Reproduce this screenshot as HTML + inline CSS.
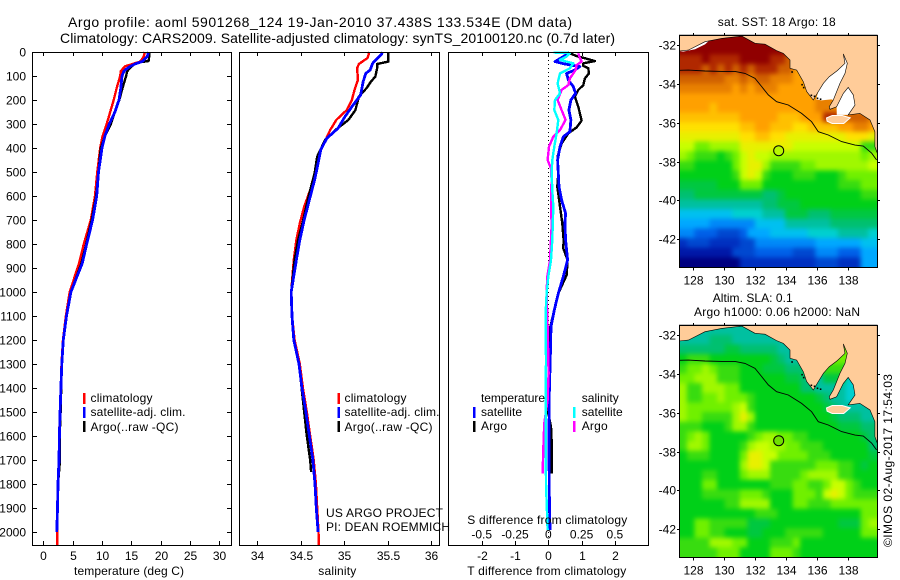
<!DOCTYPE html>
<html>
<head>
<meta charset="utf-8">
<title>Argo profile</title>
<style>
html,body{margin:0;padding:0;background:#fff}
svg{display:block}
text{font-family:"Liberation Sans",sans-serif;font-size:12px;fill:#000}
.t{font-size:14px}
</style>
</head>
<body>
<svg id="chart" xmlns="http://www.w3.org/2000/svg" width="900" height="580" viewBox="0 0 900 580">
  <defs>
    <filter id="heatBlur" filterUnits="userSpaceOnUse" x="660" y="15" width="240" height="560" color-interpolation-filters="sRGB">
      <feGaussianBlur stdDeviation="2.4"/>
    </filter>
    <clipPath id="sstClip"><rect x="680" y="35" width="198" height="232"/></clipPath>
    <clipPath id="slaClip"><rect x="680" y="325" width="198" height="232"/></clipPath>
  </defs>
  <rect x="0" y="0" width="900" height="580" fill="#fff"/>
  <text class="t" x="68" y="27" textLength="504">Argo profile: aoml 5901268_124 19-Jan-2010 37.438S 133.534E (DM data)</text>
  <text class="t" x="60" y="43" textLength="555">Climatology: CARS2009. Satellite-adjusted climatology: synTS_20100120.nc (0.7d later)</text>

  <g id="panels"></g>
  <g id="maps"></g>

  <g>
    <rect x="83" y="393" width="2.5" height="11" fill="#f00"/>
    <rect x="83" y="407" width="2.5" height="11" fill="#00f"/>
    <rect x="83" y="421" width="2.5" height="11" fill="#000"/>
    <text x="90.5" y="402" textLength="62">climatology</text>
    <text x="90.5" y="416" textLength="95">satellite-adj. clim.</text>
    <text x="90.5" y="431" textLength="88">Argo(..raw -QC)</text>
  </g>
  <g>
    <rect x="337.5" y="393" width="2.5" height="11" fill="#f00"/>
    <rect x="337.5" y="407" width="2.5" height="11" fill="#00f"/>
    <rect x="337.5" y="421" width="2.5" height="11" fill="#000"/>
    <text x="344.5" y="402" textLength="62">climatology</text>
    <text x="344.5" y="416" textLength="95">satellite-adj. clim.</text>
    <text x="344.5" y="431" textLength="88">Argo(..raw -QC)</text>
    <text x="326" y="517" textLength="117">US ARGO PROJECT</text>
    <text x="326" y="531" textLength="124">PI: DEAN ROEMMICH</text>
  </g>
  <g>
    <text x="481" y="402" textLength="64">temperature</text>
    <text x="481" y="416" textLength="41">satellite</text>
    <text x="481" y="430" textLength="26">Argo</text>
    <rect x="473" y="407" width="2.5" height="11" fill="#00f"/>
    <rect x="473" y="421" width="2.5" height="11" fill="#000"/>
    <text x="581.7" y="402" textLength="37">salinity</text>
    <text x="581.7" y="416" textLength="41">satellite</text>
    <text x="581.7" y="430" textLength="26">Argo</text>
    <rect x="573" y="407" width="2.5" height="11" fill="#0ff"/>
    <rect x="573" y="421" width="2.5" height="11" fill="#f0f"/>
    <text x="467.3" y="524" textLength="160">S difference from climatology</text>
  </g>
  <text x="74" y="575" textLength="110">temperature (deg C)</text>
  <text x="318.3" y="575" textLength="38">salinity</text>
  <text x="467.3" y="575" textLength="159">T difference from climatology</text>

  <text x="717.7" y="26" textLength="118">sat. SST: 18 Argo: 18</text>
  <text x="712.7" y="302" textLength="80">Altim. SLA: 0.1</text>
  <text x="694" y="316" textLength="166">Argo h1000: 0.06 h2000: NaN</text>
  <text transform="translate(892,547) rotate(-90)" x="0" y="0" textLength="173">©IMOS 02-Aug-2017 17:54:03</text>
</svg>

<script>
/* ---------- temperature profiles ---------- */
const tempClimDepth = [0,20,40,60,80,100,150,200,250,300,350,400,500,600,700,800,880,1000,1100,1200,1300,1400,1500,1600,1700,1800,1900,2000,2054];
const tempClim = [17.3,17.1,16.5,13.9,13.2,13.1,12.5,12.0,11.4,10.8,10.1,9.7,9.2,8.8,8.1,6.9,6.1,4.5,3.85,3.35,3.1,3.0,2.85,2.7,2.65,2.5,2.42,2.38,2.36];
const tempSatDepth = [0,20,40,50,60,70,80,100,150,200,250,300,350,400,500,600,700,800,880,1000,1100,1200,1300,1400,1500,1600,1700,1800,1900,2000];
const tempSat = [17.9,17.7,16.8,15.6,14.8,14.2,13.75,13.4,13.2,12.9,12.2,11.25,10.5,10,9.4,9.1,8.4,7.4,6.65,4.7,3.95,3.4,3.15,3.0,2.87,2.75,2.68,2.5,2.42,2.3];
const tempArgoDepth = [0,30,38,42,50,60,80,100,150,200,250,300,350,400,500,600,700,800,880,1000,1100,1200,1300,1400,1500,1600,1700,1800];
const tempArgo = [18.06,18.0,17.9,16.5,15.6,15.05,14.3,14.1,13.5,12.95,12.2,11.5,10.5,9.8,9.4,9,8.25,7.3,6.5,4.7,3.95,3.4,3.15,3.05,2.95,2.8,2.85,2.5];

/* ---------- salinity profiles ---------- */
const salClimDepth = [0,15,25,50,68,116,158,200,242,283,325,380,436,505,575,644,714,783,866,1000,1100,1200,1300,1400,1500,1600,1700,1800,1900,2000,2054];
const salClim = [35.29,35.28,35.27,35.17,35.15,35.16,35.12,35.09,35.03,34.91,34.84,34.77,34.70,34.66,34.61,34.54,34.49,34.45,34.42,34.39,34.40,34.43,34.49,34.525,34.57,34.61,34.65,34.675,34.69,34.705,34.71];
const salSatDepth = [0,10,20,47,75,89,123,179,228,269,318,360,408,464,533,603,700,783,866,1000,1100,1200,1300,1400,1500,1600,1700,1800,1900,2000];
const salSat = [35.44,35.43,35.40,35.33,35.30,35.25,35.22,35.19,35.09,35.01,34.93,34.80,34.73,34.70,34.66,34.61,34.54,34.49,34.45,34.39,34.40,34.42,34.48,34.515,34.56,34.60,34.64,34.665,34.68,34.70];
const salArgoDepth = [0,20,40,50,68,103,123,150,185,242,283,325,367,436,505,603,700,783,866,1000,1100,1200,1300,1400,1500,1600,1700,1750];
const salArgo = [35.51,35.51,35.51,35.38,35.38,35.36,35.31,35.26,35.17,35.13,35.05,34.90,34.78,34.69,34.66,34.59,34.53,34.47,34.43,34.39,34.40,34.42,34.48,34.51,34.54,34.57,34.61,34.62];

/* ---------- difference profiles ---------- */
const dTempSatDepth = [6,19,40,50,61,75,89,117,144,172,200,242,283,332,353,394,450,506,561,617,672,714,783,867,936,1006,1075,1144,1270,1422,1645,1839,1992];
const dTempSat = [.60,.45,.20,.50,.95,.80,.55,.60,.75,.82,.68,.62,.68,.65,.45,.35,.28,.30,.32,.40,.52,.50,.52,.58,.45,.30,.18,.08,.06,.03,.02,.03,.05];
const dTempArgoDepth = [3,17,26,38,47,58,68,89,110,138,158,186,228,286,314,339,381,436,506,561,644,714,783,818,867,930,1006,1145,1256,1506,1561,1617,1756];
const dTempArgo = [.60,.85,1.10,1.40,1.05,1.05,1.20,1.22,1.10,1.05,.90,.80,.90,1.00,.85,.60,.40,.28,.30,.27,.35,.42,.46,.45,.58,.55,.30,.06,.02,0,.08,.10,.10];
const dSalSatDepth = [2,4,19,33,47,68,89,131,172,200,242,283,339,394,450,506,575,644,783,867,936,1006,1089,1283,1506,1797,1992];
const dSalSat = [.0375,.1625,.1375,.0875,.1875,.1625,.0875,.07,.0875,.05,.045,.075,.0625,.045,.03,.025,.03,.0375,.03,.02,0,-.0125,-.02,-.0175,-.02,-.0175,-.005];
const dSalArgoDepth = [6,26,40,54,75,110,138,158,200,242,283,325,353,394,450,485,533,603,728,867,936,1006,1145,1339,1450,1547,1617,1756];
const dSalArgo = [.225,.2375,.25,.2125,.205,.1625,.15,.1,.07,.1,.13,.0875,.0375,.005,-.005,.02,.025,.02,.025,.0125,-.0075,-.0125,-.005,.0025,-.005,-.03,-.035,-.0425];

/* ---------- tick labels ---------- */
const depthTicks = [0,100,200,300,400,500,600,700,800,900,1000,1100,1200,1300,1400,1500,1600,1700,1800,1900,2000];
const tempTicks = [0,5,10,15,20,25,30];
const salTicks = [34,34.5,35,35.5,36];
const dTempTicks = [-2,-1,0,1,2];
const dSalTicks = [-0.5,-0.25,0,0.25,0.5];
const lonTicks = [128,130,132,134,136,138];
const latTicks = [-32,-34,-36,-38,-40,-42];

/* ---------- map values: palette levels, rows north to south, 26 columns ---------- */
const sstRows = [
[24,24,24,24,24,24,24,24,24,24,24,24,24,24,24,24,24,24,24,24,24,24,24,24,24,24],
[24,24,24,24,24,24,24,24,24,24,24,24,24,24,24,23,23,23,23,23,23,23,23,23,23,23],
[23,23,23,24,23,23,23,23,24,24,24,24,23,23,22,21,21,21,21,21,21,21,21,21,21,21],
[23,23,23,22,23,22,23,22,23,22,23,23,23,22,22,20,20,20,20,20,20,20,20,20,20,20],
[22,22,22,22,22,22,21,21,22,21,22,22,21,21,21,20,20,20,20,20,20,20,20,20,20,20],
[21,21,21,21,21,21,21,20,21,20,21,21,21,20,20,20,20,20,20,20,20,20,20,20,20,20],
[20,20,20,20,20,20,20,20,20,20,20,20,20,20,20,20,20,20,21,21,21,21,21,21,21,21],
[20,20,20,20,19,20,20,20,20,20,20,20,20,20,20,20,20,20,21,21,21,21,21,21,21,21],
[19,19,19,19,19,19,19,19,20,20,20,20,20,19,19,19,20,20,20,23,23,21,22,22,22,21],
[18,18,18,18,18,18,18,18,19,19,20,20,19,19,19,18,18,19,19,19,19,20,20,21,21,20],
[17,17,17,17,17,17,17,17,18,18,19,19,18,18,17,17,17,17,17,17,17,17,18,18,18,17],
[16,16,14,14,15,15,15,15,17,17,17,17,17,17,17,16,16,16,16,16,16,16,16,16,13,13],
[15,14,13,13,13,12,13,14,16,17,16,16,15,15,15,15,15,15,15,15,15,15,15,15,14,15],
[13,13,12,12,12,12,12,14,16,17,17,15,13,13,13,13,14,14,15,15,15,15,15,15,15,16],
[12,12,12,12,12,12,12,13,16,17,16,13,12,12,12,13,13,13,12,12,12,13,14,14,14,14],
[11,11,11,11,11,12,12,12,14,14,14,12,12,12,12,12,12,12,12,12,12,13,13,13,14,14],
[10,10,11,11,11,11,11,11,11,11,11,10,10,11,12,12,12,12,12,12,12,12,12,12,13,13],
[9,9,9,9,9,9,9,9,9,9,9,10,10,11,11,11,12,12,12,12,12,12,12,12,12,12],
[7,7,7,7,7,7,7,8,8,8,8,9,9,9,11,11,11,10,10,10,11,11,11,11,11,11],
[6,6,6,6,5,5,5,5,5,5,7,7,7,7,9,9,9,9,9,9,10,10,10,10,10,10],
[5,5,4,4,4,3,3,3,4,6,6,6,7,7,7,7,7,8,8,8,8,9,9,9,9,8],
[2,3,3,3,2,2,2,2,3,3,5,5,5,5,5,5,5,5,6,6,6,6,6,6,7,7],
[1,1,1,1,1,1,1,3,3,3,4,4,4,4,4,3,3,3,5,5,5,4,4,4,6,6],
[0,0,0,0,0,0,0,0,2,2,2,2,2,2,2,2,2,2,3,3,3,2,2,2,6,6]
];
const slaRows = [
[9,9,9,9,9,9,9,9,9,9,9,9,9,9,9,9,9,9,9,9,9,9,9,9,9,9],
[9,9,9,9,10,10,10,9,9,9,9,9,9,9,9,9,9,9,9,9,9,9,9,9,9,9],
[10,10,10,10,10,10,11,11,10,10,10,10,10,9,9,9,9,9,9,9,13,14,14,9,9,9],
[12,13,13,13,12,12,12,12,12,12,12,12,11,10,9,9,9,9,9,13,14,14,14,9,9,9],
[13,14,14,15,14,13,13,13,12,12,12,11,11,11,10,10,10,12,13,13,13,13,9,9,9,9],
[14,14,15,15,15,13,13,13,12,12,12,12,12,12,11,11,10,9,9,11,11,11,8,8,9,9],
[15,13,13,15,15,15,14,14,12,12,12,12,12,12,12,12,10,10,9,9,9,9,8,8,8,9],
[15,13,13,14,14,15,14,14,14,13,12,12,12,12,12,12,12,12,11,10,9,9,8,8,8,9],
[15,14,14,14,14,14,14,15,16,13,12,12,12,12,12,12,12,12,12,11,10,9,9,9,9,9],
[15,14,14,13,13,13,13,15,17,15,12,12,12,12,12,12,12,12,12,12,11,10,10,10,9,9],
[13,13,13,12,12,12,13,15,15,13,12,12,12,12,12,12,12,12,12,12,12,11,11,11,10,10],
[13,14,15,14,12,12,12,12,12,13,14,15,15,14,14,13,13,12,12,12,12,12,12,12,11,10],
[13,15,15,14,12,12,12,12,13,15,16,16,15,15,14,14,13,13,13,12,12,12,12,12,12,10],
[12,13,13,13,12,12,12,12,14,17,17,16,16,14,14,14,14,13,13,13,12,12,12,12,12,11],
[12,12,12,12,12,12,12,12,15,17,17,16,13,13,13,13,13,13,14,14,14,13,13,12,11,12],
[12,12,12,13,13,12,12,12,14,15,15,15,13,13,13,13,14,15,15,15,15,13,13,12,12,12],
[12,12,12,14,14,12,12,12,12,12,12,12,13,13,13,14,14,13,13,14,16,16,14,13,12,12],
[12,12,12,13,13,13,13,13,14,14,14,13,12,12,12,14,14,14,13,16,17,16,14,13,13,13],
[12,12,12,12,12,12,13,13,15,15,15,15,12,12,12,14,14,13,13,13,14,14,14,14,14,14],
[12,12,12,12,12,12,12,12,12,12,13,13,13,12,12,12,12,12,12,12,12,12,12,12,14,14],
[12,12,14,14,13,13,13,13,13,11,11,11,12,12,12,12,12,12,12,12,12,11,11,11,14,15],
[12,12,14,14,13,13,12,12,12,11,11,12,12,12,13,13,13,13,13,12,12,12,12,12,14,14],
[13,13,13,13,15,15,15,14,14,12,12,12,13,13,13,14,12,12,12,12,12,12,12,12,12,12],
[13,13,13,13,13,14,14,14,12,12,12,12,14,14,14,13,12,12,12,12,12,12,12,12,12,12]
];
const paletteStops = ["#000080","#0018a8","#0030c0","#0048d0","#0060e8","#0088f8","#00a8ff","#00c0f0","#00d0d0","#00c0a0","#00c070","#00c840","#00d018","#38dc10","#70f000","#a0f800","#c8ff00","#e8f000","#ffe000","#ffc000","#ffa000","#e88000","#d06000","#b02800","#900000"];

/* ---------- coastline and contour, [lon, lat] ---------- */
const coastLon = [127.09,127.68,128.76,129.84,131.14,132.0,132.65,133.4,133.83,134.27,134.27,134.7,135.13,135.35,135.78,136.1,136.43,136.81,137.33,137.83,137.72,137.98,137.83,137.51,137.07,136.81,136.86,137.29,137.72,138.04,138.37,138.48,138.04,138.8,139.45,139.77,139.77,139.92,139.92,127.09];
const coastLat = [-32.31,-32.26,-31.83,-31.66,-31.54,-31.91,-31.96,-32.29,-32.43,-32.77,-33.2,-33.29,-33.89,-34.4,-34.83,-34.4,-33.97,-33.63,-33.32,-32.94,-32.46,-32.94,-33.46,-33.97,-34.83,-35.18,-35.31,-35.18,-34.49,-34.18,-34.57,-35.09,-35.6,-35.52,-35.86,-36.46,-37.23,-37.56,-31.49,-31.49];
const spencerLon = [135.95,136.1,136.43,136.81,137.33,137.83,137.72,137.98,137.83,137.51,137.07,136.95,136.3];
const spencerLat = [-34.8,-34.4,-33.97,-33.63,-33.32,-32.94,-32.46,-32.94,-33.46,-33.97,-34.83,-34.8,-34.85];
const vincentLon = [137.29,137.72,138.04,138.37,138.48,138.04,137.3];
const vincentLat = [-35.18,-34.49,-34.18,-34.57,-35.09,-35.6,-35.6];
const fringeLon = [127.09,127.68,128.22,128.76,129.08,128.76,128.11,127.35];
const fringeLat = [-32.31,-32.26,-32.05,-31.83,-31.74,-31.97,-32.22,-32.34];
const kangarooLon = [136.63,137.0,137.65,138.17,137.75,137.0,136.67];
const kangarooLat = [-35.75,-35.63,-35.63,-35.75,-36.04,-36.04,-35.92];
const contourLon = [127.09,127.68,128.76,129.84,130.7,131.35,132.0,132.43,132.86,133.4,134.16,135.02,135.67,136.1,136.75,137.61,138.48,139.02,139.56,139.88];
const contourLat = [-33.30,-33.29,-33.34,-33.36,-33.36,-33.46,-33.72,-34.14,-34.57,-34.92,-35.09,-35.52,-35.95,-36.46,-36.63,-36.97,-37.15,-37.2,-37.57,-37.92];
const reefLon = [134.35,135.0,135.1,135.6,135.8,136.0,136.2];
const reefLat = [-33.35,-34.0,-34.15,-34.55,-34.6,-34.7,-34.75];
const floatLon = 133.534;
const floatLat = -37.438;

/* ---------- axis functions ---------- */
const svgNS = "http://www.w3.org/2000/svg";
const panelsG = document.getElementById("panels");
const mapsG = document.getElementById("maps");
const yDepth = d => 52 + d * 0.24;
const xTemp = v => 43.3 + v * 5.87;
const xSal = v => 257.3 + (v - 34) * 86.8;
const xDTemp = v => 548.3 + v * 33.3;
const xDSal = v => 548.3 + v * 133.2;
const xLon = v => 693.3 + (v - 128) * 15.43;
const latScale = (v, y32) => y32 + (-32 - v) * 19.43;

function make(tag, parent, attrs) {
  const el = document.createElementNS(svgNS, tag);
  for (const k in attrs) el.setAttribute(k, attrs[k]);
  parent.appendChild(el);
  return el;
}
function tickLine(parent, x1, y1, x2, y2) {
  return make("line", parent, {x1, y1, x2, y2, stroke: "#000", "stroke-width": 1, "shape-rendering": "crispEdges"});
}
function tickText(parent, x, y, s, anchor) {
  const el = make("text", parent, {x, y, "text-anchor": anchor, "font-size": "11.6"});
  el.textContent = s;
  return el;
}
function profile(parent, depths, values, xf, color, width) {
  const pts = depths.map((d, i) => xf(values[i]).toFixed(1) + "," + yDepth(d).toFixed(1)).join(" ");
  return make("polyline", parent, {points: pts, fill: "none", stroke: color, "stroke-width": width, "shape-rendering": "crispEdges", "stroke-linejoin": "round"});
}
function frame(parent, x, y, w, h) {
  return make("rect", parent, {x, y, width: w, height: h, fill: "none", stroke: "#000", "stroke-width": 1, "shape-rendering": "crispEdges"});
}

/* ---------- temperature panel ---------- */
const tempPanel = make("g", panelsG, {});


let line;
line = profile(tempPanel, tempClimDepth, tempClim, xTemp, "#f00", 2.4);


line = profile(tempPanel, tempArgoDepth, tempArgo, xTemp, "#000", 2.4);


line = profile(tempPanel, tempSatDepth, tempSat, xTemp, "#00f", 2.8);


const tempFrame = frame(tempPanel, 32.5, 52.5, 199, 493);


depthTicks.forEach(d => {
  const y = Math.round(yDepth(d)) + 0.5;
  const a = tickLine(tempPanel, 32, y, 37, y);
  
  
  const b = tickLine(tempPanel, 227, y, 232, y);
  
  
  const t = tickText(tempPanel, 26, y + 4, String(d), "end");
  
  
});
tempTicks.forEach(v => {
  const x = Math.round(xTemp(v)) + 0.5;
  const a = tickLine(tempPanel, x, 52, x, 56);
  
  
  const b = tickLine(tempPanel, x, 541, x, 545);
  
  
  const t = tickText(tempPanel, x, 560, String(v), "middle");
  
  
});

/* ---------- salinity panel ---------- */
const salPanel = make("g", panelsG, {});


line = profile(salPanel, salClimDepth, salClim, xSal, "#f00", 2.4);


line = profile(salPanel, salArgoDepth, salArgo, xSal, "#000", 2.4);


line = profile(salPanel, salSatDepth, salSat, xSal, "#00f", 2.8);


const salFrame = frame(salPanel, 239.5, 52.5, 200, 493);


salTicks.forEach(v => {
  const x = Math.round(xSal(v)) + 0.5;
  const a = tickLine(salPanel, x, 52, x, 56);
  
  
  const b = tickLine(salPanel, x, 541, x, 545);
  
  
  const t = tickText(salPanel, x, 560, String(v), "middle");
  
  
});

/* ---------- difference panel ---------- */
const diffPanel = make("g", panelsG, {});


const zeroLine = make("line", diffPanel, {x1: 548.5, y1: 52, x2: 548.5, y2: 545, stroke: "#000", "stroke-width": 1, "stroke-dasharray": "1 3", "shape-rendering": "crispEdges"});


line = profile(diffPanel, dTempArgoDepth, dTempArgo, xDTemp, "#000", 2.4);


line = profile(diffPanel, dTempSatDepth, dTempSat, xDTemp, "#00f", 2.8);


line = profile(diffPanel, dSalArgoDepth, dSalArgo, xDSal, "#f0f", 2.4);


line = profile(diffPanel, dSalSatDepth, dSalSat, xDSal, "#0ff", 2.4);


const diffFrame = frame(diffPanel, 448.5, 52.5, 200, 493);


dTempTicks.forEach(v => {
  const x = Math.round(xDTemp(v)) + 0.5;
  const a = tickLine(diffPanel, x, 52, x, 56);
  
  
  const b = tickLine(diffPanel, x, 541, x, 545);
  
  
  const t = tickText(diffPanel, x, 560, String(v), "middle");
  
  
});
dSalTicks.forEach(v => {
  const t = tickText(diffPanel, xDSal(v), 538.5, String(v), "middle");
  
  
});

/* ---------- maps ---------- */
function polyPoints(lons, lats, y32) {
  return lons.map((v, i) => xLon(v).toFixed(1) + "," + latScale(lats[i], y32).toFixed(1)).join(" ");
}
function paletteColor(v) {
  const i = Math.max(0, Math.min(paletteStops.length - 1, Math.round(v)));
  return paletteStops[i];
}
function drawHeat(parent, rows, y32) {
  const lonStep = 0.49, latStep = 0.4975;
  const nr = rows.length;
  rows.forEach((row, r) => {
    const nc = row.length;
    row.forEach((v, c) => {
      let x0 = xLon(127.09 + c * lonStep), x1 = xLon(127.09 + (c + 1) * lonStep);
      let y0 = latScale(-31.49 - r * latStep, y32), y1 = latScale(-31.49 - (r + 1) * latStep, y32);
      if (c === 0) x0 -= 12;
      if (c === nc - 1) x1 += 12;
      if (r === 0) y0 -= 12;
      if (r === nr - 1) y1 += 12;
      const cell = make("rect", parent, {x: x0.toFixed(2), y: y0.toFixed(2), width: (x1 - x0 + 0.4).toFixed(2), height: (y1 - y0 + 0.4).toFixed(2), fill: paletteColor(v)});
      
      
    });
  });
}
function drawMap(name, rows, y32, gulfFill, clipId, markerFill) {
  const g = make("g", mapsG, {});
  
  
  const top = Math.round(latScale(-31.49, y32));
  const clipG = make("g", g, {"clip-path": "url(#" + clipId + ")"});
  
  
  const heatG = make("g", clipG, {filter: "url(#heatBlur)"});
  
  
  drawHeat(heatG, rows, y32);
  if (gulfFill) {
    const sp = make("polygon", g, {points: polyPoints(spencerLon, spencerLat, y32), fill: gulfFill});
    
    
    const vi = make("polygon", g, {points: polyPoints(vincentLon, vincentLat, y32), fill: gulfFill});
    
    
    const fr0 = make("polygon", g, {points: polyPoints(fringeLon, fringeLat, y32), fill: gulfFill});
    
    
  }
  const land = make("polygon", g, {points: polyPoints(coastLon, coastLat, y32), fill: "#ffcc99", stroke: "#000", "stroke-width": 0.6});
  
  
  const isle = make("polygon", g, {points: polyPoints(kangarooLon, kangarooLat, y32), fill: "#ffcc99", stroke: "#fff", "stroke-width": 1});
  
  
  reefLon.forEach((v, i) => {
    const dot = make("rect", g, {x: xLon(v).toFixed(1), y: latScale(reefLat[i], y32).toFixed(1), width: 1.6, height: 1.6, fill: "#000"});
    
    
  });
  const contour = make("polyline", g, {points: polyPoints(contourLon, contourLat, y32), fill: "none", stroke: "#000", "stroke-width": 0.9});
  
  
  const marker = make("circle", g, {cx: xLon(floatLon).toFixed(1), cy: latScale(floatLat, y32).toFixed(1), r: 5, fill: markerFill, stroke: "#000", "stroke-width": 1});
  
  
  const fr = frame(g, 679.5, top + 0.5, 198, 232);
  
  
  const bottom = top + 232.5;
  lonTicks.forEach(v => {
    const x = Math.round(xLon(v)) + 0.5;
    const a = tickLine(g, x, top - 2, x, top);
    
    
    const b = tickLine(g, x, bottom, x, bottom + 3);
    
    
    const t = tickText(g, x, bottom + 17, String(v), "middle");
    
    
  });
  latTicks.forEach(v => {
    const y = Math.round(latScale(v, y32)) + 0.5;
    const a = tickLine(g, 677, y, 679, y);
    
    
    const b = tickLine(g, 878, y, 880, y);
    
    
    const t = tickText(g, 676, y + 4, String(v), "end");
    
    
  });
}
drawMap("sst-map", sstRows, 45, "#fff", "sstClip", "#b8f800");
drawMap("sla-map", slaRows, 335, null, "slaClip", "#70e000");
</script>
</body>
</html>
